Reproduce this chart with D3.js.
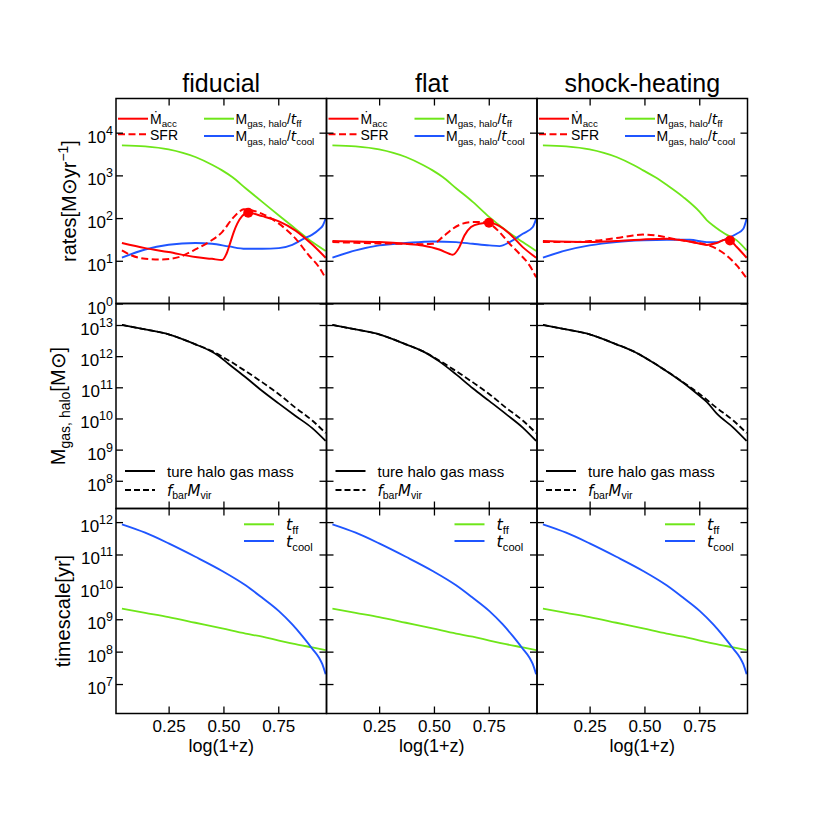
<!DOCTYPE html>
<html>
<head>
<meta charset="utf-8">
<script src="https://cdn.jsdelivr.net/npm/d3@7"></script>
<style>
  body { margin: 0; background: #fff; }
  svg { font-family: "Liberation Sans", Arial, sans-serif; }
</style>
</head>
<body>
<svg id="chart" width="830" height="830"></svg>
<script>
const columns = ["fiducial", "flat", "shock-heating"];
const xTicks = [0.25, 0.5, 0.75];
const rateTicks = [1, 1e1, 1e2, 1e3, 1e4];
const massTicks = [1e8, 1e9, 1e10, 1e11, 1e12, 1e13];
const timeTicks = [1e7, 1e8, 1e9, 1e10, 1e11, 1e12];

// top row: [log(1+z), rate in Msun/yr]
const accFiducial = [[0.037, 26], [0.143, 19.8], [0.25, 16], [0.372, 12.2], [0.448, 11.1], [0.494, 10.4], [0.517, 16], [0.532, 27.4], [0.547, 47], [0.563, 74], [0.585, 111], [0.613, 133], [0.677, 111], [0.753, 84], [0.829, 51], [0.905, 24], [0.966, 11.8]];
const sfrFiducial = [[0.037, 17.5], [0.082, 13.3], [0.143, 11.1], [0.22, 10.7], [0.296, 12.2], [0.372, 18.4], [0.433, 27.4], [0.494, 47], [0.54, 96], [0.57, 138], [0.593, 160], [0.631, 151], [0.677, 126], [0.753, 74], [0.829, 33], [0.89, 13.3], [0.936, 7.1], [0.966, 3.9]];
const ffRateFiducial = [[0.037, 5050], [0.143, 4790], [0.25, 4070], [0.372, 2690], [0.45, 1750], [0.494, 1310], [0.54, 915], [0.601, 500], [0.677, 240], [0.753, 115], [0.829, 56], [0.905, 27.4], [0.966, 17]];
const coolRateFiducial = [[0.037, 11.8], [0.143, 18.4], [0.25, 23.7], [0.372, 26], [0.448, 25], [0.524, 21.7], [0.601, 19.1], [0.677, 19.1], [0.753, 19.8], [0.814, 23.7], [0.867, 33], [0.905, 41], [0.936, 54], [0.954, 68], [0.966, 98]];
const peakFiducial = [0.613, 133];

const accFlat = [[0.037, 28.9], [0.143, 28.4], [0.25, 27.4], [0.372, 25], [0.448, 22.9], [0.524, 18.4], [0.57, 14.6], [0.585, 13.8], [0.616, 20.9], [0.639, 39], [0.669, 62], [0.707, 74], [0.753, 78], [0.799, 65], [0.845, 43], [0.905, 20.9], [0.966, 11.8]];
const sfrFlat = [[0.037, 27.4], [0.143, 26.4], [0.25, 25.5], [0.372, 25], [0.448, 24.5], [0.494, 25], [0.54, 36], [0.585, 56], [0.631, 74], [0.677, 81], [0.723, 81], [0.761, 70], [0.799, 47], [0.845, 25], [0.89, 14.6], [0.936, 7.8], [0.966, 4.1]];
const ffRateFlat = [[0.037, 5050], [0.143, 4790], [0.25, 4070], [0.372, 2690], [0.45, 1750], [0.494, 1310], [0.54, 915], [0.601, 500], [0.677, 240], [0.753, 105], [0.829, 51], [0.905, 27.4], [0.966, 17]];
const coolRateFlat = [[0.037, 11.8], [0.143, 17.5], [0.25, 22.9], [0.372, 26], [0.494, 28.4], [0.601, 27.4], [0.677, 25], [0.753, 22.9], [0.799, 22.1], [0.845, 27.4], [0.905, 43], [0.951, 62], [0.966, 96]];
const peakFlat = [0.751, 78];

const accShock = [[0.037, 28.9], [0.25, 27.4], [0.372, 28.9], [0.494, 31.6], [0.601, 33], [0.677, 30], [0.738, 26], [0.784, 23.5], [0.829, 26], [0.867, 31], [0.89, 30], [0.921, 21], [0.966, 11.8]];
const sfrShock = [[0.037, 27.4], [0.143, 27.4], [0.25, 28.9], [0.372, 34], [0.448, 39], [0.494, 41], [0.57, 38], [0.646, 31.6], [0.723, 27.4], [0.784, 23.7], [0.829, 19.1], [0.875, 13.3], [0.921, 7.8], [0.966, 3.9]];
const ffRateShock = [[0.037, 5050], [0.143, 4790], [0.25, 4070], [0.372, 2690], [0.45, 1750], [0.494, 1310], [0.55, 900], [0.601, 600], [0.677, 310], [0.753, 138], [0.784, 90], [0.822, 62], [0.867, 43], [0.921, 30], [0.966, 17.5]];
const coolRateShock = [[0.037, 11.8], [0.143, 17.5], [0.25, 22.9], [0.372, 27.4], [0.494, 30], [0.601, 31], [0.707, 31], [0.784, 27.4], [0.829, 27.4], [0.875, 33], [0.921, 43], [0.951, 56], [0.966, 96]];
const peakShock = [0.89, 30];

// middle row: halo gas mass [Msun]
const fbarMvir = [[0.037, 1.0e13], [0.143, 7.2e12], [0.25, 5.0e12], [0.372, 2.4e12], [0.448, 1.45e12], [0.524, 7.3e11], [0.601, 3.3e11], [0.677, 1.45e11], [0.753, 6.0e10], [0.829, 2.2e10], [0.905, 8.6e9], [0.966, 3.4e9]];
const gasFiducial = [[0.037, 1.0e13], [0.143, 7.2e12], [0.25, 5.0e12], [0.372, 2.4e12], [0.43, 1.6e12], [0.48, 1.0e12], [0.524, 5.6e11], [0.601, 2.1e11], [0.677, 7.6e10], [0.753, 3.0e10], [0.829, 1.2e10], [0.905, 4.9e9], [0.966, 1.9e9]];
const gasFlat = [[0.037, 1.0e13], [0.143, 7.2e12], [0.25, 5.0e12], [0.372, 2.4e12], [0.448, 1.45e12], [0.524, 6.8e11], [0.601, 2.6e11], [0.677, 9.3e10], [0.753, 3.6e10], [0.829, 1.38e10], [0.905, 5.1e9], [0.966, 1.9e9]];
const gasShock = [[0.037, 1.0e13], [0.143, 7.2e12], [0.25, 5.0e12], [0.372, 2.4e12], [0.448, 1.45e12], [0.524, 7.3e11], [0.601, 3.3e11], [0.677, 1.4e11], [0.753, 5.2e10], [0.784, 3.4e10], [0.829, 1.45e10], [0.905, 5.1e9], [0.966, 1.9e9]];

// bottom row: timescales [yr]
const tff = [[0.037, 2.14e9], [0.143, 1.58e9], [0.25, 1.17e9], [0.372, 7.8e8], [0.494, 5.2e8], [0.601, 3.6e8], [0.677, 2.9e8], [0.753, 2.2e8], [0.829, 1.7e8], [0.905, 1.35e8], [0.966, 1.12e8]];
const tcool = [[0.037, 8.5e11], [0.143, 4.7e11], [0.25, 2.2e11], [0.372, 8.5e10], [0.494, 3.1e10], [0.601, 1.12e10], [0.677, 4.6e9], [0.753, 1.78e9], [0.814, 6.9e8], [0.86, 3.0e8], [0.905, 1.23e8], [0.936, 6.5e7], [0.951, 4.1e7], [0.966, 2.0e7]];

const panels = [
  { acc: accFiducial, sfr: sfrFiducial, ff: ffRateFiducial, cool: coolRateFiducial, peak: peakFiducial, gas: gasFiducial },
  { acc: accFlat, sfr: sfrFlat, ff: ffRateFlat, cool: coolRateFlat, peak: peakFlat, gas: gasFlat },
  { acc: accShock, sfr: sfrShock, ff: ffRateShock, cool: coolRateShock, peak: peakShock, gas: gasShock },
];

const RED = "#ff0000", GREEN = "#6ee619", BLUE = "#1f55ff";
const panelLeft = 116, panelTop = 98.5, pw = 210.5, ph = 205;
const tickLen = 7;

const svg = d3.select("#chart");

const x = d3.scaleLinear().domain([0.01, 0.97]).range([0, pw]);
const rows = [
  { y: d3.scaleLog().domain([1, 10 ** 4.8]).range([ph, 0]), ticks: rateTicks },
  { y: d3.scaleLog().domain([10 ** 7.11, 10 ** 13.69]).range([ph, 0]), ticks: massTicks },
  { y: d3.scaleLog().domain([10 ** 6.09, 10 ** 12.42]).range([ph, 0]), ticks: timeTicks },
];

// text with sub/superscripts: parts = [{t, sub, sup, it}]
function rich(text, parts, size) {
  let shift = 0;
  parts.forEach(p => {
    const target = p.sub ? size * 0.24 : p.sup ? -size * 0.42 : 0;
    text.append("tspan")
      .attr("dy", target - shift)
      .attr("font-size", p.sub || p.sup ? size * 0.7 : size)
      .attr("font-style", p.it ? "italic" : null)
      .attr("font-family", p.it ? "DejaVu Sans" : null)
      .text(p.t);
    shift = target;
  });
  return text;
}

function powLabels(g) {
  g.selectAll(".tick text").each(function(d) {
    const t = d3.select(this).text(null).attr("dy", 9.5).attr("font-size", 17);
    t.append("tspan").text("10");
    t.append("tspan").attr("dy", -8).attr("font-size", 12.5).text(Math.round(Math.log10(d)));
  });
}

function cleanAxis(g) {
  g.select(".domain").remove();
  g.selectAll(".tick line").attr("stroke", "#000").attr("stroke-width", 1.3);
  g.selectAll(".tick text").attr("fill", "#000");
}

const line = y => d3.line()
  .x(d => x(d[0]))
  .y(d => y(d[1]))
  .curve(d3.curveMonotoneX);

function drawSeries(g, data, y, color, width, dash) {
  g.append("path")
    .attr("d", line(y)(data))
    .attr("fill", "none")
    .attr("stroke", color)
    .attr("stroke-width", width)
    .attr("stroke-dasharray", dash || null);
}

function legendEntry(g, x1, y, color, dash, parts, size, gap) {
  g.append("line")
    .attr("x1", x1).attr("x2", x1 + 30)
    .attr("y1", y).attr("y2", y)
    .attr("stroke", color)
    .attr("stroke-width", 2)
    .attr("stroke-dasharray", dash || null);
  rich(g.append("text").attr("x", x1 + 30 + gap).attr("y", y + size * 0.38), parts, size);
}

columns.forEach((title, ci) => {
  const p = panels[ci];
  const cx = panelLeft + ci * pw;

  svg.append("text")
    .attr("x", cx + pw / 2)
    .attr("y", 92)
    .attr("text-anchor", "middle")
    .attr("font-size", 25)
    .text(title);

  rows.forEach((row, ri) => {
    const y = row.y;
    const g = svg.append("g").attr("transform", `translate(${cx},${panelTop + ri * ph})`);

    if (ri === 0) {
      drawSeries(g, p.ff, y, GREEN, 1.8);
      drawSeries(g, p.cool, y, BLUE, 1.9);
      drawSeries(g, p.acc, y, RED, 2);
      drawSeries(g, p.sfr, y, RED, 2, "7,3.5");
      g.append("circle")
        .attr("cx", x(p.peak[0]))
        .attr("cy", y(p.peak[1]))
        .attr("r", 5)
        .attr("fill", RED);

      legendEntry(g, 2, 20.2, RED, null, [{ t: "Ṁ" }, { t: "acc", sub: true }], 14, 2);
      legendEntry(g, 2, 35.8, RED, "7,3.5", [{ t: "SFR" }], 14, 2);
      legendEntry(g, 88, 20.2, GREEN, null, [{ t: "M" }, { t: "gas, halo", sub: true }, { t: "/" }, { t: "t", it: true }, { t: "ff", sub: true }], 14, 1.5);
      legendEntry(g, 88, 37.5, BLUE, null, [{ t: "M" }, { t: "gas, halo", sub: true }, { t: "/" }, { t: "t", it: true }, { t: "cool", sub: true }], 14, 1.5);
    } else if (ri === 1) {
      drawSeries(g, p.gas, y, "#000", 1.8);
      drawSeries(g, fbarMvir, y, "#000", 1.8, "6,3");
      legendEntry(g, 9, 167.5, "#000", null, [{ t: "ture halo gas mass" }], 15, 12);
      legendEntry(g, 9, 186.5, "#000", "6,3", [{ t: "f", it: true }, { t: "bar", sub: true }, { t: "M", it: true }, { t: "vir", sub: true }], 15, 12);
    } else {
      drawSeries(g, tff, y, GREEN, 1.8);
      drawSeries(g, tcool, y, BLUE, 1.9);
      legendEntry(g, 128, 15.8, GREEN, null, [{ t: "t", it: true }, { t: "ff", sub: true }], 16, 12);
      legendEntry(g, 128, 32.5, BLUE, null, [{ t: "t", it: true }, { t: "cool", sub: true }], 16, 12);
    }

    // ticks pointing inward on all four sides
    g.append("g")
      .call(d3.axisLeft(y).tickValues(row.ticks).tickSize(-tickLen).tickPadding(3)
        .tickFormat(ci === 0 ? d => d : () => ""))
      .call(cleanAxis)
      .call(ci === 0 ? powLabels : () => {});
    g.append("g")
      .attr("transform", `translate(${pw},0)`)
      .call(d3.axisRight(y).tickValues(row.ticks).tickSize(-tickLen).tickFormat(() => ""))
      .call(cleanAxis);
    g.append("g")
      .call(d3.axisTop(x).tickValues(xTicks).tickSize(-tickLen).tickFormat(() => ""))
      .call(cleanAxis);
    g.append("g")
      .attr("transform", `translate(0,${ph})`)
      .call(d3.axisBottom(x).tickValues(xTicks).tickSize(-tickLen).tickPadding(6)
        .tickFormat(ri === 2 ? d3.format(".2f") : () => ""))
      .call(cleanAxis)
      .call(a => a.selectAll(".tick text").attr("font-size", 17));

    g.append("rect")
      .attr("width", pw)
      .attr("height", ph)
      .attr("fill", "none")
      .attr("stroke", "#000")
      .attr("stroke-width", 1.5);
  });

  svg.append("text")
    .attr("x", cx + pw / 2)
    .attr("y", 752)
    .attr("text-anchor", "middle")
    .attr("font-size", 18)
    .text("log(1+z)");
});

// y-axis titles
rich(svg.append("text")
  .attr("transform", `translate(76,${panelTop + ph / 2}) rotate(-90)`)
  .attr("text-anchor", "middle"),
  [{ t: "rates[M" }, { t: "⊙" }, { t: "yr" }, { t: "−1", sup: true }, { t: "]" }], 20);

rich(svg.append("text")
  .attr("transform", `translate(65,${panelTop + ph * 1.5}) rotate(-90)`)
  .attr("text-anchor", "middle"),
  [{ t: "M" }, { t: "gas, halo", sub: true }, { t: "[M" }, { t: "⊙" }, { t: "]" }], 20);

rich(svg.append("text")
  .attr("transform", `translate(70,${panelTop + ph * 2.5}) rotate(-90)`)
  .attr("text-anchor", "middle"),
  [{ t: "timescale[yr]" }], 20);
</script>
</body>
</html>
